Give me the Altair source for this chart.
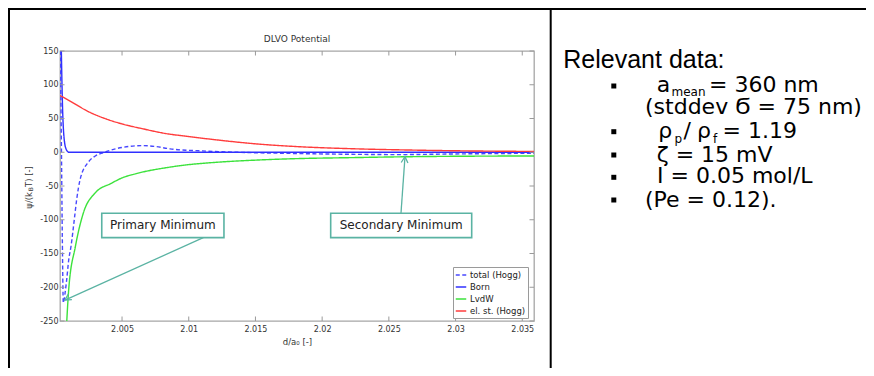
import altair as alt
import pandas as pd

# ---------------- data ----------------
series_names = ["total (Hogg)", "Born", "LvdW", "el. st. (Hogg)"]
series_colors = ["#4848ff", "#3030ff", "#3ce23c", "#ff3c3c"]
series_dash = [[4, 2.5], [1, 0], [1, 0], [1, 0]]

total_x = [2.00037, 2.00045, 2.00052, 2.0006, 2.00072, 2.00085, 2.001, 2.00117,
           2.00142, 2.0016, 2.00185, 2.0025, 2.003, 2.0037, 2.0045, 2.0055,
           2.0065, 2.0075, 2.0086, 2.011, 2.0136, 2.017, 2.0221, 2.0258,
           2.030, 2.0359]
total_y = [150, 20, -120, -223, -210, -189, -160, -140, -100, -70, -41, -14,
           -5.5, 0, 5, 8.5, 9.8, 8.5, 5, 2, 0, -1.5, -3, -3.5, -2.5, -1.5]

born_x = [2.00045, 2.0005, 2.00055, 2.0006, 2.00066, 2.00072, 2.0008, 2.0009,
          2.001, 2.0359]
born_y = [150, 100, 60, 36, 20, 11, 5, 1.5, 0, 0]

lvdw_x = [2.00085, 2.001, 2.0015, 2.0021, 2.003, 2.0042, 2.005, 2.006, 2.0086,
          2.0097, 2.012, 2.0153, 2.018, 2.0221, 2.027, 2.0359]
lvdw_y = [-253, -204, -140, -90, -60, -46, -38, -32, -22, -19, -15, -11.4,
          -9.5, -8, -6.5, -5.5]

el_x = [2.00035, 2.001, 2.0025, 2.004, 2.005, 2.0065, 2.0085, 2.0097, 2.012,
        2.0153, 2.018, 2.0221, 2.026, 2.030, 2.0359]
el_y = [84, 77, 60, 48, 42, 35, 27, 24, 18.5, 12, 8.5, 5.3, 3.5, 2.2, 1.2]

x_ticks = [2.005, 2.01, 2.015, 2.02, 2.025, 2.03, 2.035]
y_ticks = [-250, -200, -150, -100, -50, 0, 50, 100, 150]
x_domain = [2.00035, 2.03588]
y_domain = [-250, 150]

# annotations (data coordinates)
ann_labels = ["Primary Minimum", "Secondary Minimum"]
ann_box_x1 = [2.00348, 2.02064]
ann_box_x2 = [2.01264, 2.03121]
ann_box_y1 = [-90.4, -90.4]
ann_box_y2 = [-126.5, -126.5]
ann_tail_x = [2.01109, 2.02591]
ann_tail_y = [-126.5, -90.4]
ann_tip_x = [2.00072, 2.02621]
ann_tip_y = [-219, -6.5]
ann_head_angle = [237.6, 4]

# right-hand text panel
panel_text = ["a", "mean", "= 360 nm", "(stddev \u03ec = 75 nm)",
              "\u03c1", "p", "/", "\u03c1", "f", "= 1.19",
              "\u03b6 = 15 mV", "I = 0.05 mol/L", "(Pe = 0.12)."]
panel_x = [596.7, 611.5, 649.0, 585, 598.3, 614.5, 623.5, 637.0, 653.0, 662.5,
           596.7, 597, 585]
panel_y = [40.5, 45.0, 40.5, 63.3, 87.3, 91.8, 87.3, 87.3, 91.8, 87.3,
           110.7, 132.3, 155.7]
panel_size = [22, 12, 22, 22, 22, 12, 22, 22, 12, 22, 22, 22, 22]
bullet_x = [553.8, 553.8, 553.8, 553.8, 553.8]
bullet_y = [35, 80.7, 104, 126.3, 149]

W, H = 474, 270
TEAL = "#5ab3a3"
FONT = "DejaVu Sans"

# ---------------- build tables ----------------
rows = []
for name, xs, ys in zip(series_names, [total_x, born_x, lvdw_x, el_x],
                        [total_y, born_y, lvdw_y, el_y]):
    for xv, yv in zip(xs, ys):
        rows.append({"series": name, "x": xv, "y": yv})
lines_df = pd.DataFrame(rows)

ann_df = pd.DataFrame({
    "label": ann_labels, "bx1": ann_box_x1, "bx2": ann_box_x2,
    "by1": ann_box_y1, "by2": ann_box_y2,
    "tx": ann_tail_x, "ty": ann_tail_y, "hx": ann_tip_x, "hy": ann_tip_y,
    "angle": ann_head_angle,
})
ann_df["mx"] = (ann_df["bx1"] + ann_df["bx2"]) / 2
ann_df["my"] = (ann_df["by1"] + ann_df["by2"]) / 2

xscale = alt.Scale(domain=x_domain, nice=False, zero=False)
yscale = alt.Scale(domain=y_domain, nice=False, zero=False)
x_axis = alt.Axis(values=x_ticks, format=".3~f", title=None, ticks=False,
                  domain=False, grid=False, labelFont=FONT, labelFontSize=8,
                  labelColor="#333333", labelPadding=4, labelFlush=False)
y_axis = alt.Axis(values=y_ticks, title=None, ticks=False, domain=False,
                  grid=False, labelFont=FONT, labelFontSize=8,
                  labelColor="#333333", labelPadding=2,
                  labelExpr="replace(datum.label, '\u2212', '-')")

leg = alt.Legend(title=None, orient="none", legendX=393, legendY=216,
                 symbolType="stroke", symbolSize=110, symbolStrokeWidth=1.3,
                 labelFont=FONT, labelFontSize=8.5, labelColor="#222222",
                 padding=2, rowPadding=1, labelOffset=3,
                 strokeColor="#9a9a9a", fillColor="white", labelLimit=200)


def X(field):
    return alt.X(field, type="quantitative", scale=xscale, axis=x_axis)


def Y(field):
    return alt.Y(field, type="quantitative", scale=yscale, axis=y_axis)


lines = alt.Chart(lines_df).mark_line(clip=True, strokeWidth=1.4, interpolate="monotone").encode(
    x=X("x"), y=Y("y"),
    color=alt.Color("series:N", scale=alt.Scale(domain=series_names, range=series_colors),
                    legend=leg),
    strokeDash=alt.StrokeDash("series:N", scale=alt.Scale(domain=series_names, range=series_dash),
                              legend=leg),
)

xt_df = pd.DataFrame({"v": x_ticks})
yt_df = pd.DataFrame({"v": y_ticks})
tick_col = "#9a9a9a"
xt_bot = alt.Chart(xt_df).mark_rule(color=tick_col).encode(x=X("v"), y=alt.value(H), y2=alt.value(H - 4.5))
xt_top = alt.Chart(xt_df).mark_rule(color=tick_col).encode(x=X("v"), y=alt.value(0), y2=alt.value(4.5))
yt_left = alt.Chart(yt_df).mark_rule(color=tick_col).encode(y=Y("v"), x=alt.value(0), x2=alt.value(4.5))
yt_right = alt.Chart(yt_df).mark_rule(color=tick_col).encode(y=Y("v"), x=alt.value(W), x2=alt.value(W - 4.5))

boxes = alt.Chart(ann_df).mark_rect(fill="white", stroke=TEAL, strokeWidth=1.6).encode(
    x=X("bx1"), x2="bx2", y=Y("by1"), y2="by2")
arrows = alt.Chart(ann_df).mark_rule(color=TEAL, strokeWidth=1.3).encode(
    x=X("tx"), x2="hx", y=Y("ty"), y2="hy")
heads = alt.Chart(ann_df).mark_point(shape="M-0.55,1L0,0L0.55,1", filled=False,
                                     stroke=TEAL, strokeWidth=1.3, size=150, opacity=1).encode(
    x=X("hx"), y=Y("hy"), angle=alt.Angle("angle:Q", scale=None))
ann_text = alt.Chart(ann_df).mark_text(font=FONT, fontSize=12, color="#222222",
                                       baseline="middle", align="center").encode(
    x=X("mx"), y=Y("my"), text="label:N")

one = pd.DataFrame({"k": [0]})
title = alt.Chart(one).mark_text(text="DLVO Potential", font=FONT, fontSize=9,
                                 color="#333333", baseline="middle").encode(
    x=alt.value(W / 2), y=alt.value(-11.7))
xtitle = alt.Chart(one).mark_text(text="d/a\u2080 [-]", font=FONT, fontSize=8.5,
                                  color="#333333", baseline="middle").encode(
    x=alt.value(237.5), y=alt.value(290.7))
yt1 = alt.Chart(one).mark_text(text="\u03c8/(k", font=FONT, fontSize=8.5, color="#333333",
                               angle=270, align="left", baseline="middle").encode(
    x=alt.value(-31.5), y=alt.value(157.7))
yt2 = alt.Chart(one).mark_text(text="B", font=FONT, fontSize=6, color="#333333",
                               angle=270, align="left", baseline="middle").encode(
    x=alt.value(-29.3), y=alt.value(140.2))
yt3 = alt.Chart(one).mark_text(text=" T) [-]", font=FONT, fontSize=8.5, color="#333333",
                               angle=270, align="left", baseline="middle").encode(
    x=alt.value(-31.5), y=alt.value(136.0))

frame_df = pd.DataFrame({"x": [-52, -51, 490.7], "x2": [806, -51, 490.7],
                         "y": [-42, -43, -43], "y2": [-42, 317, 317]})
frame = alt.Chart(frame_df).mark_rule(color="black", strokeWidth=2).encode(
    x=alt.X("x:Q", scale=None, axis=None), x2="x2:Q",
    y=alt.Y("y:Q", scale=None, axis=None), y2="y2:Q")

rel = alt.Chart(one).mark_text(text="Relevant data:", font="Liberation Sans", fontSize=25,
                               color="black", align="left", baseline="alphabetic").encode(
    x=alt.value(503.3), y=alt.value(17))

panel_df = pd.DataFrame({"t": panel_text, "x": panel_x, "y": panel_y, "s": panel_size})
panel = alt.Chart(panel_df).mark_text(font=FONT, color="black", align="left",
                                      baseline="alphabetic").encode(
    x=alt.X("x:Q", scale=None, axis=None), y=alt.Y("y:Q", scale=None, axis=None),
    size=alt.Size("s:Q", scale=None, legend=None), text="t:N")

bul_df = pd.DataFrame({"x": bullet_x, "y": bullet_y})
bullets = alt.Chart(bul_df).mark_point(shape="square", filled=True, color="black",
                                       size=25, opacity=1).encode(
    x=alt.X("x:Q", scale=None, axis=None), y=alt.Y("y:Q", scale=None, axis=None))

chart = alt.layer(
    lines, xt_bot, xt_top, yt_left, yt_right, boxes, arrows, heads, ann_text,
    title, xtitle, yt1, yt2, yt3, frame, rel, panel, bullets,
).properties(
    width=W, height=H,
    autosize=alt.AutoSizeParams(type="none"),
    padding={"left": 52, "top": 43, "right": 332, "bottom": 47},
).configure_view(stroke="#a6a6a6", strokeWidth=1.3)

chart.save("out.html", embed_options={"renderer": "svg", "actions": False})
